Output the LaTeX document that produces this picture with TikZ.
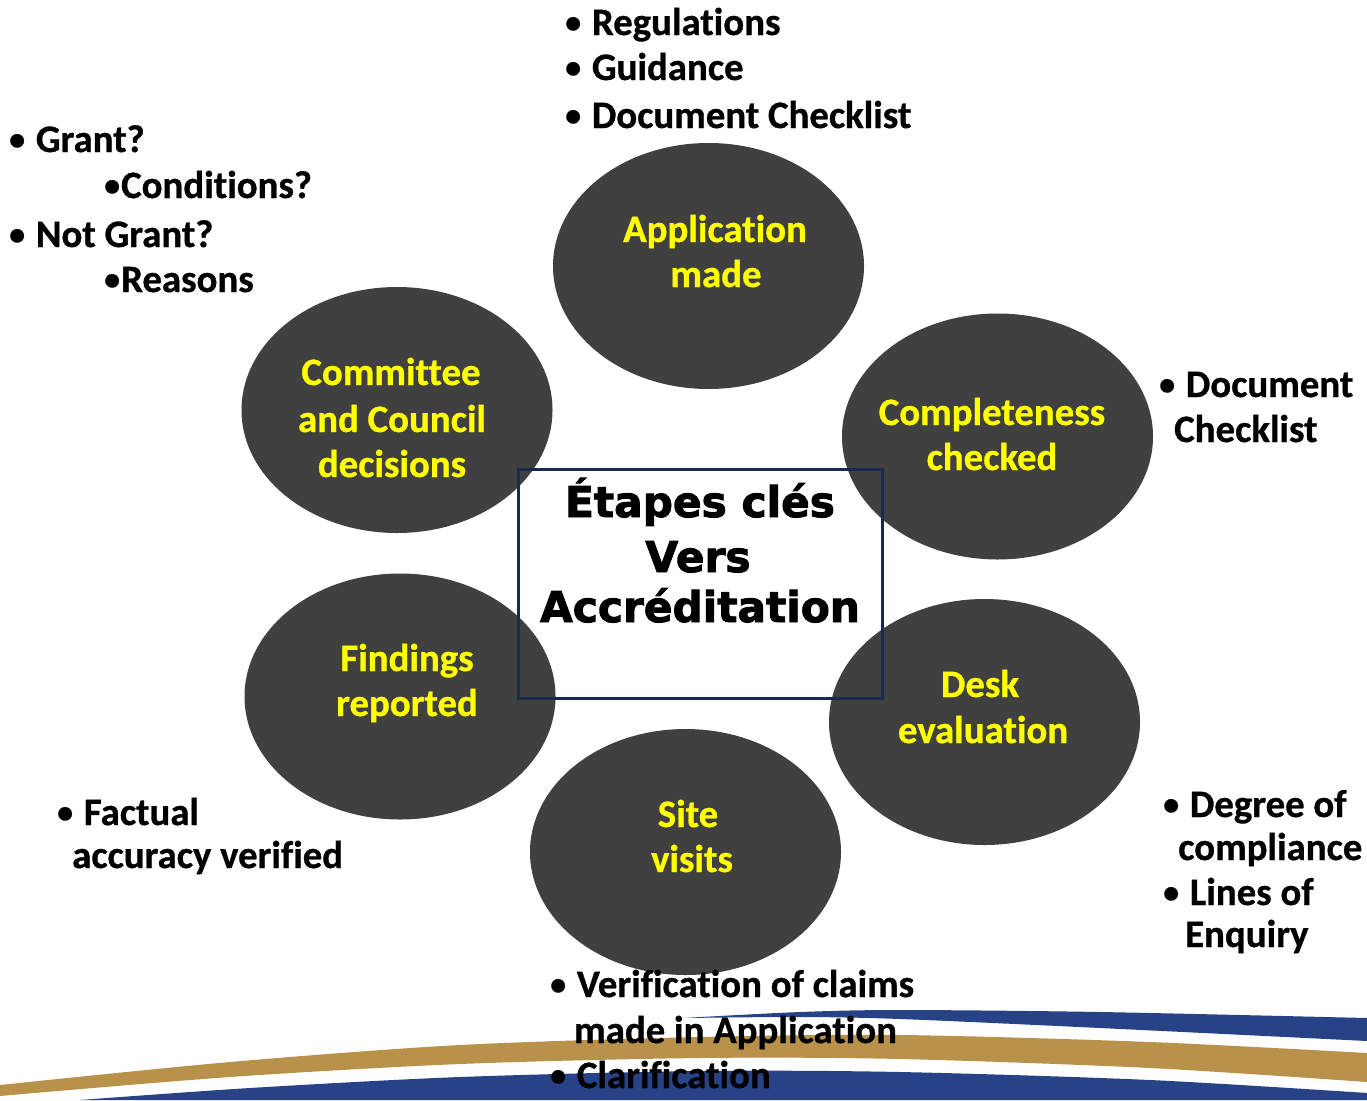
\documentclass[tikz,border=0pt]{standalone}
\usepackage{fontspec}
\setmainfont{Carlito}[Ligatures={NoCommon,NoRequired}, BoldFeatures={FakeBold=0.8}]
\newfontfamily\ctrfont{DejaVu Sans}[BoldFeatures={FakeBold=2.2}]
\usetikzlibrary{shapes.geometric}
\definecolor{bandblue}{HTML}{274287}
\definecolor{bandgold}{HTML}{B8914A}
\definecolor{stepgray}{HTML}{404040}
\definecolor{labelyellow}{HTML}{FFFF00}
\definecolor{boxnavy}{HTML}{172B4D}
\newcommand\bulmark{\kern1pt\raisebox{2.2pt}{\fontsize{32}{32}\selectfont •}\kern2pt}
\tikzset{
  stepdisk/.style={ellipse, fill=stepgray, minimum width=311pt, minimum height=246pt, inner sep=0pt},
  steplabel/.style={anchor=base, inner sep=0pt, text=labelyellow, font=\fontsize{38.8}{46}\selectfont\bfseries},
  notetext/.style={anchor=base west, inner sep=0pt, text=black, font=\fontsize{38.8}{46}\selectfont\bfseries},
  titletext/.style={anchor=base, inner sep=0pt, text=black, font=\ctrfont\fontsize{42.3}{52}\selectfont\bfseries},
  titlebox/.style={draw=boxnavy, line width=3pt, fill=none, inner sep=0pt}
}
\begin{document}
\begin{tikzpicture}[x=1pt, y=-1pt]
\useasboundingbox (0,0) rectangle (1367,1100);
% bottom swoosh
\fill[bandblue] plot[smooth] coordinates {(683,1018) (800,1012) (900,1010) (1100,1012) (1367,1018)}
  -- plot[smooth] coordinates {(1367,1041) (1100,1028) (900,1019) (800,1017) (683,1018)} -- cycle;
\fill[bandgold] plot[smooth] coordinates {(0,1085) (230,1062) (460,1045) (700,1037) (900,1035) (1150,1042) (1367,1053)}
  -- plot[smooth] coordinates {(1367,1082) (1150,1068) (900,1059) (700,1058) (460,1064) (230,1077) (0,1096)} -- cycle;
\fill[bandblue] plot[smooth] coordinates {(80,1100) (250,1088) (460,1077) (700,1071) (900,1072) (1150,1080) (1367,1093)}
  -- (1367,1100) -- cycle;
% step disks
\node[stepdisk] (app)  at (708.5,266) {};
\node[stepdisk] (comp) at (997.5,436.5) {};
\node[stepdisk] (desk) at (984.5,722) {};
\node[stepdisk] (site) at (685.5,852) {};
\node[stepdisk] (find) at (400,696.5) {};
\node[stepdisk] (comm) at (397,410) {};
% centre box
\node[titlebox, minimum width=364pt, minimum height=229pt] (box) at (700,583.5) {};
\node[titletext] (t1) at (700,517) {Étapes clés};
\node[titletext] (t2) at (698,572) {Vers};
\node[titletext] (t3) at (700,622) {Accréditation};
% step labels
\node[steplabel] (app1) at (715,242) {Application};
\node[steplabel] (app2) at (716,287) {made};
\node[steplabel] (comp1) at (992,425) {Completeness};
\node[steplabel] (comp2) at (992,470) {checked};
\node[steplabel] (desk1) at (980,697) {Desk};
\node[steplabel] (desk2) at (983,743) {evaluation};
\node[steplabel] (site1) at (688,827) {Site};
\node[steplabel] (site2) at (692,872) {visits};
\node[steplabel] (find1) at (407,671) {Findings};
\node[steplabel] (find2) at (407,716) {reported};
\node[steplabel] (comm1) at (391,385) {Committee};
\node[steplabel] (comm2) at (392,432) {and Council};
\node[steplabel] (comm3) at (392,477) {decisions};
% notes
\node[notetext] (n1) at (564,35) {\bulmark{} Regulations};
\node[notetext] (n2) at (564,80) {\bulmark{} Guidance};
\node[notetext] (n3) at (564,128) {\bulmark{} Document Checklist};
\node[notetext] (g1) at (8,152) {\bulmark{} Grant?};
\node[notetext] (g2) at (103,198) {\bulmark{}\kern-1pt Conditions?};
\node[notetext] (g3) at (8,247) {\bulmark{} Not Grant?};
\node[notetext] (g4) at (103,292) {\bulmark{}\kern-1pt Reasons};
\node[notetext] (d1) at (1158,397) {\bulmark{} Document};
\node[notetext] (d2) at (1174,442) {Checklist};
\node[notetext] (e1) at (1162,817) {\bulmark{} Degree of};
\node[notetext] (e2) at (1178,860) {compliance};
\node[notetext] (e3) at (1162,905) {\bulmark{} Lines of};
\node[notetext] (e4) at (1185,947) {Enquiry};
\node[notetext] (f1) at (56,825) {\bulmark{} Factual};
\node[notetext] (f2) at (72,868) {accuracy verified};
\node[notetext] (v1) at (549,997) {\bulmark{} Verification of claims};
\node[notetext] (v2) at (574,1043) {made in Application};
\node[notetext] (v3) at (549,1088) {\bulmark{} Clarification};
\end{tikzpicture}
\end{document}
